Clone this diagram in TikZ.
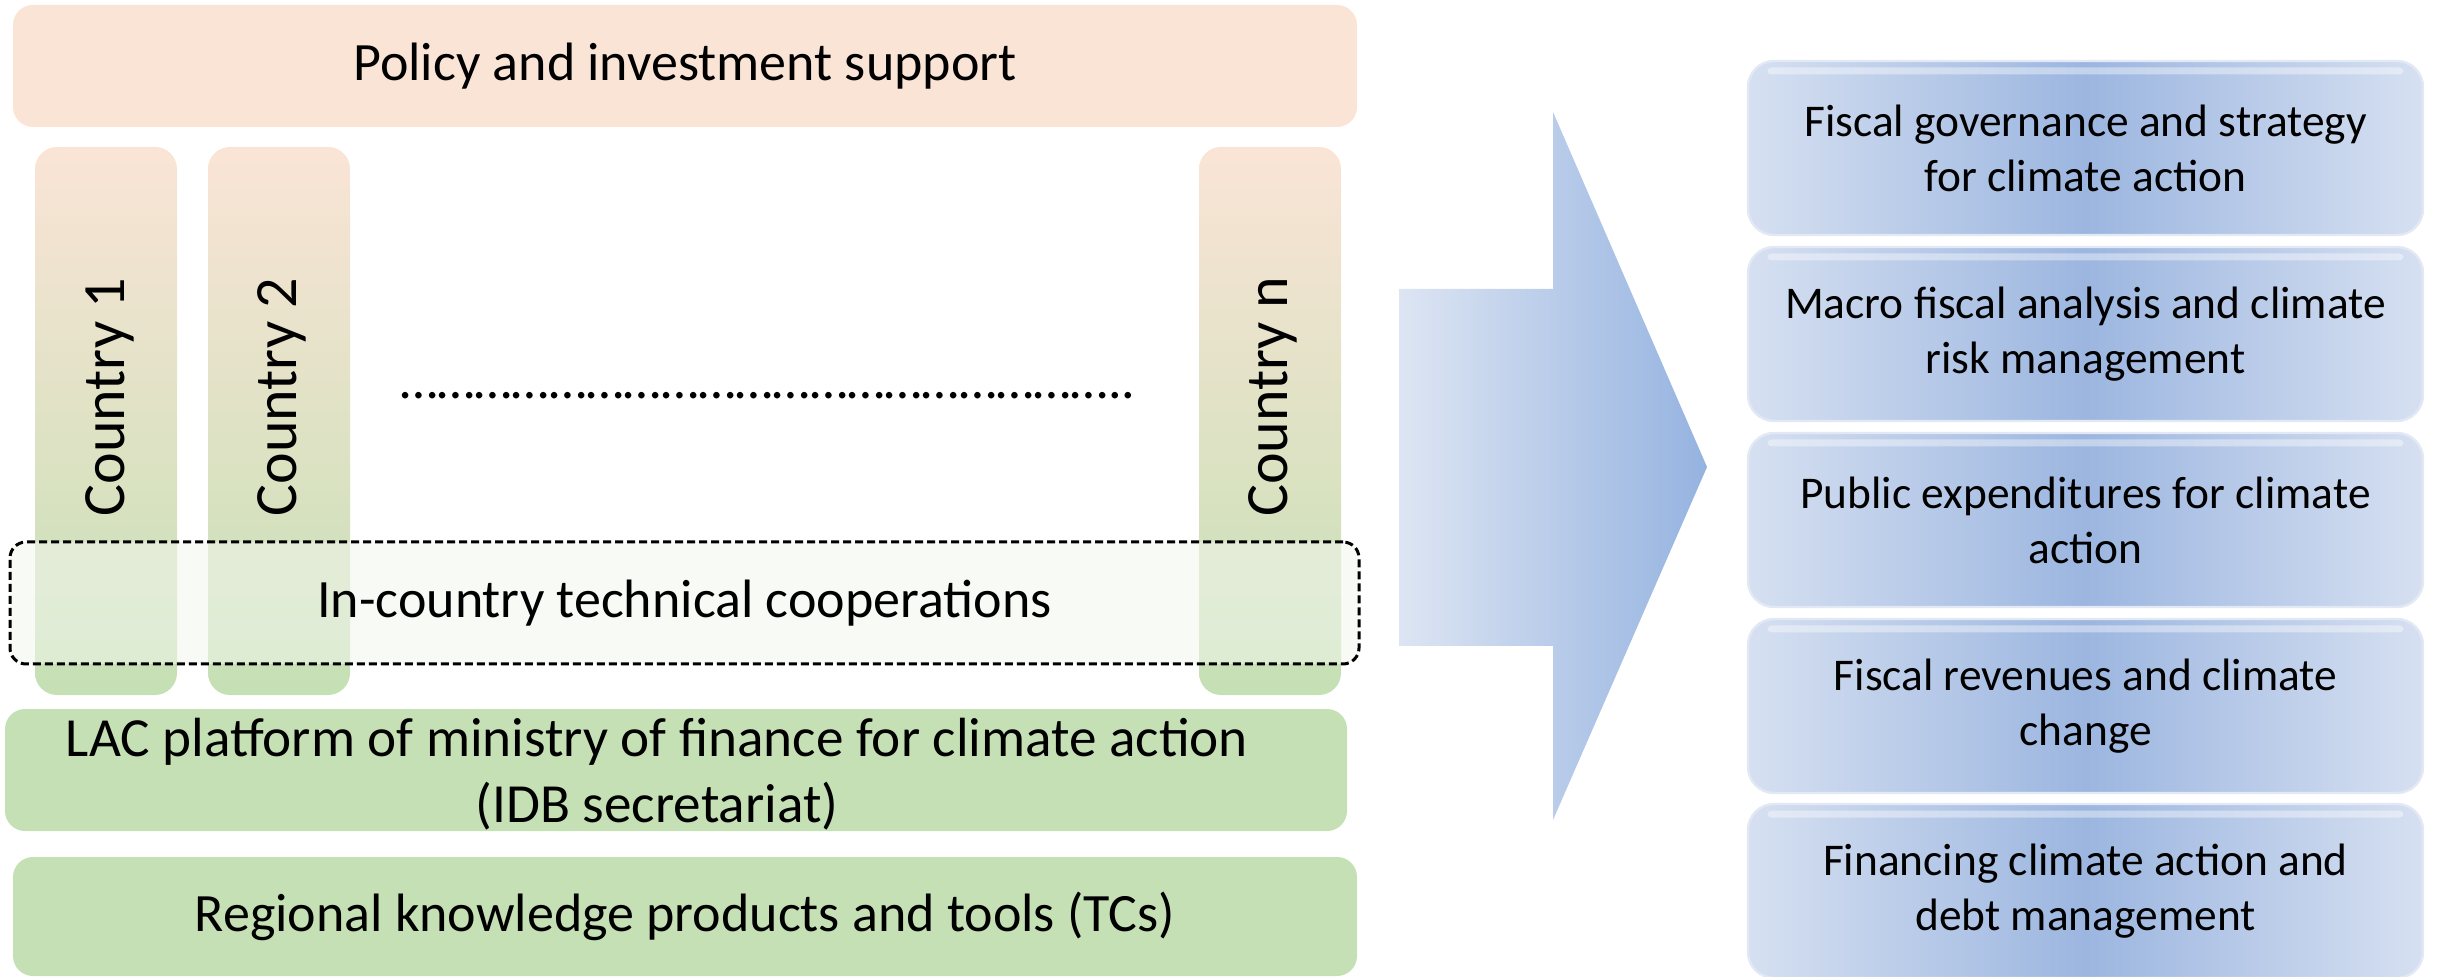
\documentclass[tikz,border=0pt]{standalone}
\usepackage{fontspec}
\setmainfont{Carlito}
\definecolor{peach}{HTML}{FAE4D6}
\definecolor{leaf}{HTML}{C5E0B4}
\definecolor{veil}{HTML}{F2F6ED}
\definecolor{arrowlight}{HTML}{DDE5F3}
\definecolor{arrowdark}{HTML}{95B3E0}
\definecolor{tileedge}{HTML}{D6E0F1}
\definecolor{tilemid}{HTML}{9CB6E0}
\definecolor{tileline}{HTML}{E2E8F4}
\begin{document}
\begin{tikzpicture}[x=0.5pt,y=-0.5pt,
  every node/.style={inner sep=0pt, outer sep=0pt},
  bigtext/.style={font=\fontsize{27}{33}\selectfont, align=center},
  colltext/.style={font=\fontsize{30}{36}\selectfont, rotate=90},
  tiletext/.style={font=\fontsize{22.7}{27.5}\selectfont, align=center},
  peachbox/.style={fill=peach, rounded corners=10pt},
  greenbox/.style={fill=leaf, rounded corners=10pt},
  countrybar/.style={top color=peach, bottom color=leaf, rounded corners=11pt,
    minimum width=71pt, minimum height=274pt},
  tcbox/.style={draw=black, line width=1.5pt, dash pattern=on 4pt off 2pt,
    fill=veil, fill opacity=0.55, rounded corners=8pt},
  tile/.style={left color=tileedge, right color=tileedge, middle color=tilemid,
    draw=tileline, line width=1.2pt, rounded corners=13pt,
    minimum width=337.5pt, minimum height=87pt},
  gloss/.style={fill=white, fill opacity=0.4, rounded corners=2pt,
    minimum width=318pt, minimum height=3.5pt}]
\useasboundingbox (0,0) rectangle (2440,977);

% support layer on top
\node[peachbox, minimum width=672pt, minimum height=61pt] (policy) at (685,66) {};
\node[bigtext] (policyt) at (policy.center) {Policy and investment support};

% country columns
\node[countrybar] (c1) at (106,421) {};
\node[countrybar] (c2) at (279,421) {};
\node[countrybar] (cn) at (1270,421) {};
\node[colltext] (c1t) at (110,397) {Country 1};
\node[colltext] (c2t) at (282,397) {Country 2};
\node[colltext] (cnt) at (1273,397) {Country n};
\node[bigtext, anchor=base] (dots) at (768,399)
  {\foreach \k in {1,...,19}{…}..};

% technical cooperation band across the columns
\node[tcbox, minimum width=674.5pt, minimum height=61pt] (tc) at (684.5,603) {};
\node[bigtext] (tct) at (tc.center) {In-country technical cooperations};

% regional layers
\node[greenbox, minimum width=671pt, minimum height=61pt] (lac) at (676,770) {};
\node[bigtext, font=\fontsize{27.6}{33}\selectfont] (lact) at (657,774)
  {LAC platform of ministry of finance for climate action\\(IDB secretariat)};
\node[greenbox, minimum width=672pt, minimum height=59.5pt] (reg) at (685,916.5) {};
\node[bigtext] (regt) at (reg.center) {Regional knowledge products and tools (TCs)};

% block arrow
\coordinate (a1) at (1399,289);
\coordinate (a2) at (1553,289);
\coordinate (a3) at (1553,112);
\coordinate (a4) at (1707,467);
\coordinate (a5) at (1553,820);
\coordinate (a6) at (1553,646);
\coordinate (a7) at (1399,646);
\shade[left color=arrowlight, right color=arrowdark]
  (a1) -- (a2) -- (a3) -- (a4) -- (a5) -- (a6) -- (a7) -- cycle;

% work areas
\foreach \name/\yc/\txt in {
  t1/148/{Fiscal governance and strategy\\for climate action},
  t2/334/{Macro fiscal analysis and climate\\risk management},
  t3/520/{Public expenditures for climate\\action},
  t4/706/{Fiscal revenues and climate\\change},
  t5/891/{Financing climate action and\\debt management}}{
  \node[tile] (\name) at (2085.5,\yc) {};
  \node[gloss] (\name g) at ([yshift=-5pt]\name.north) {};
  \node[tiletext] (\name t) at (\name.center) {\txt};
}
\end{tikzpicture}
\end{document}
